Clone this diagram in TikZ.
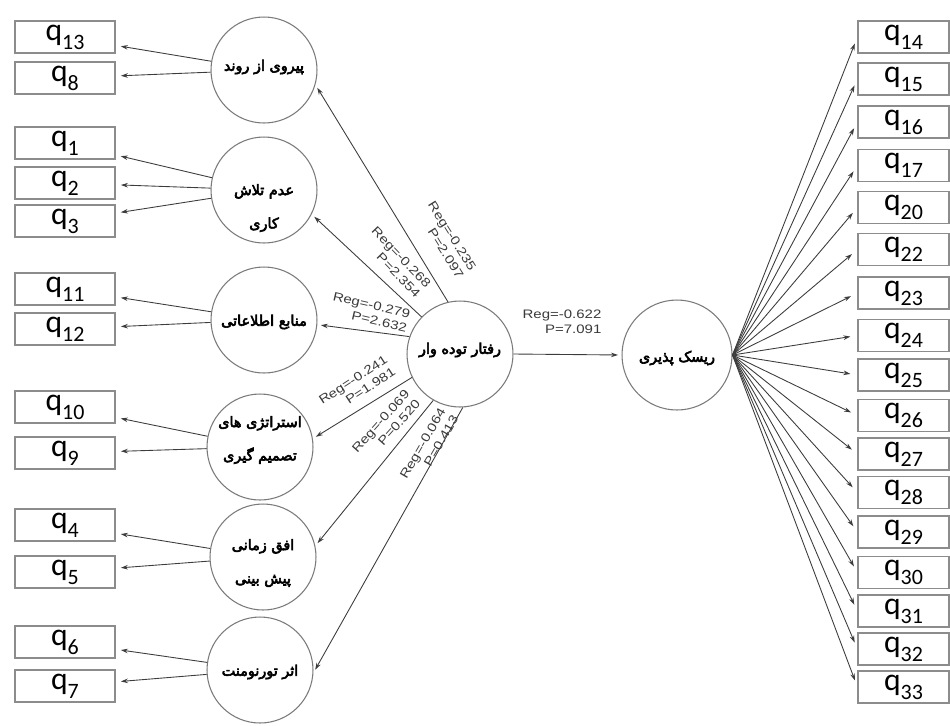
\documentclass[tikz,border=0pt]{standalone}
\usepackage{fontspec}
\setmainfont{Liberation Sans}
\newfontfamily\farsi[Script=Arabic,FakeBold=4]{DejaVu Sans}
\newfontfamily\qfont{Carlito}
\newfontfamily\labfont[FakeStretch=1.22]{Liberation Sans}
\TeXXeTstate=1
\usetikzlibrary{arrows.meta}
\definecolor{boxgray}{HTML}{8C8C8C}
\definecolor{circgray}{HTML}{7A7A7A}
\definecolor{linegray}{HTML}{3C3C3C}
\definecolor{labgray}{HTML}{3A3A3A}
\newcommand\qlab[1]{{\qfont\fontsize{18}{18}\selectfont q\raisebox{-5pt}{\fontsize{12.5}{12.5}\selectfont #1}}}
\begin{document}
\begin{tikzpicture}[x=0.02cm,y=-0.02cm,
  lbox/.style={draw=boxgray, line width=0.7pt, minimum width=2cm, minimum height=0.64cm, inner sep=0pt},
  rbox/.style={draw=boxgray, line width=0.7pt, minimum width=1.82cm, minimum height=0.64cm, inner sep=0pt},
  circ/.style={circle, draw=circgray, line width=0.6pt, minimum size=2.12cm, inner sep=0pt},
  ctext/.style={font=\farsi\fontsize{8.2}{19}\selectfont, align=center, inner sep=0pt},
  arr/.style={-{Stealth[length=4pt,width=2.6pt]}, line width=0.5pt, draw=linegray, shorten >=2pt},
  lab/.style={font=\labfont\fontsize{7}{8.3}\selectfont, text=labgray, align=right, inner sep=0pt}]
\useasboundingbox (0,0) rectangle (950,725);
% left boxes
\foreach \n/\y in {13/37,8/78,1/143,2/183,3/221,11/289,12/329,10/407,9/453,4/525,5/572,6/642,7/686}
  \node[lbox] (l\n) at (65,\y) {\qlab{\n}};
% right boxes
\foreach \n/\y in {14/37,15/79,16/122,17/165.5,20/207.5,22/249.5,23/293,24/335.5,25/375,26/415.5,27/454,28/492.5,29/532,30/572.5,31/611,32/649,33/687}
  \node[rbox] (r\n) at (903.5,\y) {\qlab{\n}};
% circles
\node[circ] (C1) at (264,70) {};
\node[circ] (C2) at (264,190) {};
\node[circ] (C3) at (264,320) {};
\node[circ] (C4) at (260,447) {};
\node[circ] (C5) at (263,557) {};
\node[circ] (C6) at (260,670) {};
\node[circ] (M) at (460,354) {};
\node[circ, minimum size=2.2cm] (R) at (677,355) {};
% circle texts
\node[ctext] (t1) at (264,67) {\beginR پیروی از روند\endR};
\node[ctext] (t2) at (264,208) {\beginR عدم تلاش\endR\\\beginR کاری\endR};
\node[ctext] (t3) at (264,322) {\beginR منابع اطلاعاتی\endR};
\node[ctext] (t4) at (260,440) {\beginR استراتژی های\endR\\\beginR تصمیم گیری\endR};
\node[ctext] (t5) at (263,563) {\beginR افق زمانی\endR\\\beginR پیش بینی\endR};
\node[ctext] (t6) at (260,672) {\beginR اثر تورنومنت\endR};
\node[ctext] (tM) at (460,350) {\beginR رفتار توده وار\endR};
\node[ctext] (tR) at (677,358) {\beginR ریسک پذیری\endR};
% circle -> left boxes
\foreach \c/\b in {C1/l13,C1/l8,C2/l1,C2/l2,C2/l3,C3/l11,C3/l12,C4/l10,C4/l9,C5/l4,C5/l5,C6/l6,C6/l7}
  \draw[arr, shorten >=3pt] (\c) -- (\b);
% central -> left circles
\draw[arr] (M.103) -- (C1.-16);
\draw[arr] (M.136) -- (C2.-27);
\draw[arr] (M.161) -- (C3.-5);
\draw[arr] (M.206) -- (C4.9);
\draw[arr] (M.240) -- (C5.12);
\draw[arr] (M.273) -- (C6.-3);
% central -> right circle
\draw[arr] (M.east) -- (R.west);
% fan
\foreach \n in {14,15,16,17,20,22,23,24,25,26,27,28,29,30,31,32,33}
  \draw[arr, shorten >=4pt] (R.east) -- (r\n.west);
% labels
\node[lab, rotate=-58] (g1) at (446,240) {Reg=-0.235\\P=2.097};
\node[lab, rotate=-46] (g2) at (396,262) {Reg=-0.268\\P=2.354};
\node[lab, rotate=-13] (g3) at (370,312) {Reg=-0.279\\P=2.632};
\node[lab, rotate=33] (g4) at (357,386) {Reg=-0.241\\P=1.981};
\node[lab, rotate=48] (g5) at (386,426) {Reg=-0.069\\P=0.520};
\node[lab, rotate=60] (g6) at (429,447) {Reg=-0.064\\P=0.413};
\node[lab] (g7) at (562,322) {Reg=-0.622\\P=7.091};
\end{tikzpicture}
\end{document}
